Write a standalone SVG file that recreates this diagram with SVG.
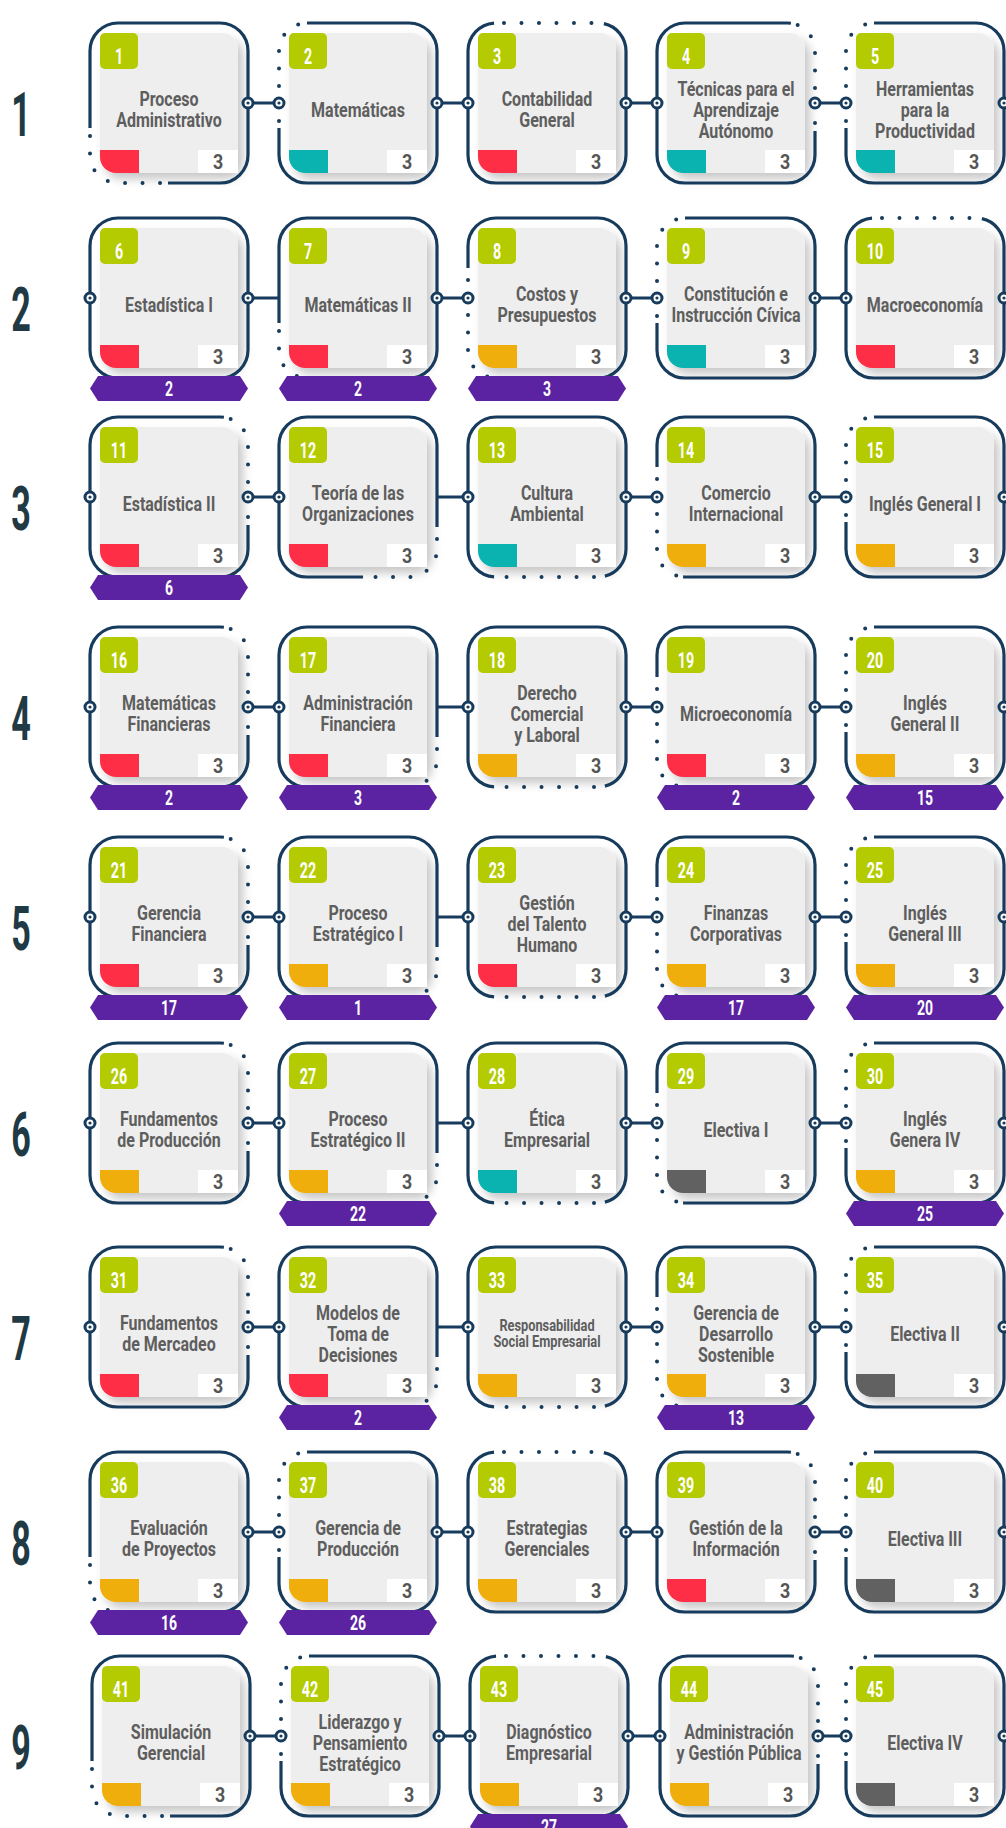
<svg xmlns="http://www.w3.org/2000/svg" width="1006" height="1828" viewBox="0 0 1006 1828">
<style>
.dots{fill:none;stroke:#163b5c;stroke-width:4;stroke-linecap:round}
.solid{fill:none;stroke:#163b5c;stroke-width:3.2}
.in{fill:#eeeeee;filter:url(#sh)}
.bd{fill:#b3cb00}
.red{fill:#fe2e47}.teal{fill:#0bb3b0}.org{fill:#f0ae0c}.gry{fill:#616161}
.wb{fill:#ffffff}
.pt{fill:#5b23a1}
.ti,.bn,.cr,.pn,.rl{font-family:Roboto,'Liberation Sans',Arial,sans-serif;font-weight:700;text-anchor:middle}
.ti{font-size:20px;fill:#5e5e5e}
.sm{font-size:16px}
.bn{font-size:22px;fill:#ffffff}
.cr{font-size:21px;fill:#555555}
.pn{font-size:20px;fill:#ffffff}
.rl{font-size:62px;fill:#1f3a45}
.ln{fill:none;stroke:#163b5c;stroke-width:3.2}
.sA{stroke-dasharray:346 121 121 0}
.sTL{stroke-dasharray:467 121}
.sT{stroke-dasharray:0 108 478 2}
.sR{stroke-dasharray:106 120 362 0}
.sBR{stroke-dasharray:228 112 248 0}
.sB{stroke-dasharray:287 111 190 0}
.sL{stroke-dasharray:398 124 66 0}
.dA{stroke-dasharray:0 17.5 0 17.5 0 17.5 0 17.5 0 17.5 0 17.5 0 483;stroke-dashoffset:234}
.dTL{stroke-dasharray:0 17.5 0 17.5 0 17.5 0 17.5 0 17.5 0 17.5 0 483;stroke-dashoffset:114}
.dT{stroke-dasharray:0 17.5 0 17.5 0 17.5 0 17.5 0 17.5 0 500.5;stroke-dashoffset:580}
.dR{stroke-dasharray:0 17.5 0 17.5 0 17.5 0 17.5 0 17.5 0 17.5 0 483;stroke-dashoffset:475}
.dBR{stroke-dasharray:0 17.5 0 17.5 0 17.5 0 17.5 0 17.5 0 500.5;stroke-dashoffset:348}
.dB{stroke-dasharray:0 17.5 0 17.5 0 17.5 0 17.5 0 17.5 0 500.5;stroke-dashoffset:290}
.dL{stroke-dasharray:0 17.5 0 17.5 0 17.5 0 17.5 0 17.5 0 17.5 0 483;stroke-dashoffset:183}
</style>
<defs>
<filter id="sh" x="-20%" y="-20%" width="150%" height="150%"><feDropShadow dx="5" dy="6" stdDeviation="5" flood-color="#000" flood-opacity="0.22"/></filter>
<path id="frame" pathLength="588" d="M28,0H130A28,28 0 0 1 158,28V132A28,28 0 0 1 130,160H28A28,28 0 0 1 0,132V28A28,28 0 0 1 28,0Z"/>
<rect id="inner" x="10" y="10" width="138" height="140" rx="16"/>
<rect id="badge" x="10" y="10" width="38" height="36" rx="5"/>
<path id="ctab" d="M10,127H49V150H26A16,16 0 0 1 10,134Z"/>
<rect id="wbox" x="108" y="127" width="40" height="23"/>
<path id="ptab" d="M0,170.5L8,158H150L158,170.5L150,183H8Z"/>
<g id="knot"><circle r="5" fill="#ffffff" stroke="#163b5c" stroke-width="3"/><circle r="1.6" fill="#163b5c"/></g>
</defs>
<rect width="1006" height="1828" fill="#ffffff"/>

<g id="row-labels">
<text class="rl" transform="translate(21 136) scale(.55 1)">1</text>
<text class="rl" transform="translate(21 331) scale(.55 1)">2</text>
<text class="rl" transform="translate(21 530) scale(.55 1)">3</text>
<text class="rl" transform="translate(21 740) scale(.55 1)">4</text>
<text class="rl" transform="translate(21 950) scale(.55 1)">5</text>
<text class="rl" transform="translate(21 1156) scale(.55 1)">6</text>
<text class="rl" transform="translate(21 1360) scale(.55 1)">7</text>
<text class="rl" transform="translate(21 1565) scale(.55 1)">8</text>
<text class="rl" transform="translate(21 1769) scale(.55 1)">9</text>
</g>

<!-- Row 1 -->
<g id="c1" transform="translate(90 23)">
<use href="#inner" class="in"/><use href="#frame" class="dots dA"/><use href="#frame" class="solid sA"/>
<use href="#badge" class="bd"/><text class="bn" transform="translate(29 40.5) scale(.65 1)">1</text>
<use href="#ctab" class="red"/><use href="#wbox" class="wb"/><text class="cr" transform="translate(128 146) scale(.85 1)">3</text>
<text class="ti" transform="translate(79 0) scale(.8 1)"><tspan x="0" y="83.5">Proceso</tspan><tspan x="0" y="104.5">Administrativo</tspan></text>
</g>
<g id="c2" transform="translate(279 23)">
<use href="#inner" class="in"/><use href="#frame" class="dots dTL"/><use href="#frame" class="solid sTL"/>
<use href="#badge" class="bd"/><text class="bn" transform="translate(29 40.5) scale(.65 1)">2</text>
<use href="#ctab" class="teal"/><use href="#wbox" class="wb"/><text class="cr" transform="translate(128 146) scale(.85 1)">3</text>
<text class="ti" transform="translate(79 0) scale(.8 1)"><tspan x="0" y="94">Matemáticas</tspan></text>
</g>
<g id="c3" transform="translate(468 23)">
<use href="#inner" class="in"/><use href="#frame" class="dots dT"/><use href="#frame" class="solid sT"/>
<use href="#badge" class="bd"/><text class="bn" transform="translate(29 40.5) scale(.65 1)">3</text>
<use href="#ctab" class="red"/><use href="#wbox" class="wb"/><text class="cr" transform="translate(128 146) scale(.85 1)">3</text>
<text class="ti" transform="translate(79 0) scale(.8 1)"><tspan x="0" y="83.5">Contabilidad</tspan><tspan x="0" y="104.5">General</tspan></text>
</g>
<g id="c4" transform="translate(657 23)">
<use href="#inner" class="in"/><use href="#frame" class="dots dR"/><use href="#frame" class="solid sR"/>
<use href="#badge" class="bd"/><text class="bn" transform="translate(29 40.5) scale(.65 1)">4</text>
<use href="#ctab" class="teal"/><use href="#wbox" class="wb"/><text class="cr" transform="translate(128 146) scale(.85 1)">3</text>
<text class="ti" transform="translate(79 0) scale(.8 1)"><tspan x="0" y="73">Técnicas para el</tspan><tspan x="0" y="94">Aprendizaje</tspan><tspan x="0" y="115">Autónomo</tspan></text>
</g>
<g id="c5" transform="translate(846 23)">
<use href="#inner" class="in"/><use href="#frame" class="dots dTL"/><use href="#frame" class="solid sTL"/>
<use href="#badge" class="bd"/><text class="bn" transform="translate(29 40.5) scale(.65 1)">5</text>
<use href="#ctab" class="teal"/><use href="#wbox" class="wb"/><text class="cr" transform="translate(128 146) scale(.85 1)">3</text>
<text class="ti" transform="translate(79 0) scale(.8 1)"><tspan x="0" y="73">Herramientas</tspan><tspan x="0" y="94">para la</tspan><tspan x="0" y="115">Productividad</tspan></text>
</g>

<!-- Row 2 -->
<g id="c6" transform="translate(90 218)">
<use href="#inner" class="in"/><use href="#frame" class="solid"/>
<use href="#badge" class="bd"/><text class="bn" transform="translate(29 40.5) scale(.65 1)">6</text>
<use href="#ctab" class="red"/><use href="#wbox" class="wb"/><text class="cr" transform="translate(128 146) scale(.85 1)">3</text>
<text class="ti" transform="translate(79 0) scale(.8 1)"><tspan x="0" y="94">Estadística I</tspan></text>
<use href="#ptab" class="pt"/><text class="pn" transform="translate(79 177.5) scale(.7 1)">2</text>
</g>
<g id="c7" transform="translate(279 218)">
<use href="#inner" class="in"/><use href="#frame" class="dots dA"/><use href="#frame" class="solid sA"/>
<use href="#badge" class="bd"/><text class="bn" transform="translate(29 40.5) scale(.65 1)">7</text>
<use href="#ctab" class="red"/><use href="#wbox" class="wb"/><text class="cr" transform="translate(128 146) scale(.85 1)">3</text>
<text class="ti" transform="translate(79 0) scale(.8 1)"><tspan x="0" y="94">Matemáticas II</tspan></text>
<use href="#ptab" class="pt"/><text class="pn" transform="translate(79 177.5) scale(.7 1)">2</text>
</g>
<g id="c8" transform="translate(468 218)">
<use href="#inner" class="in"/><use href="#frame" class="dots dL"/><use href="#frame" class="solid sL"/>
<use href="#badge" class="bd"/><text class="bn" transform="translate(29 40.5) scale(.65 1)">8</text>
<use href="#ctab" class="org"/><use href="#wbox" class="wb"/><text class="cr" transform="translate(128 146) scale(.85 1)">3</text>
<text class="ti" transform="translate(79 0) scale(.8 1)"><tspan x="0" y="83.5">Costos y</tspan><tspan x="0" y="104.5">Presupuestos</tspan></text>
<use href="#ptab" class="pt"/><text class="pn" transform="translate(79 177.5) scale(.7 1)">3</text>
</g>
<g id="c9" transform="translate(657 218)">
<use href="#inner" class="in"/><use href="#frame" class="dots dTL"/><use href="#frame" class="solid sTL"/>
<use href="#badge" class="bd"/><text class="bn" transform="translate(29 40.5) scale(.65 1)">9</text>
<use href="#ctab" class="teal"/><use href="#wbox" class="wb"/><text class="cr" transform="translate(128 146) scale(.85 1)">3</text>
<text class="ti" transform="translate(79 0) scale(.8 1)"><tspan x="0" y="83.5">Constitución e</tspan><tspan x="0" y="104.5">Instrucción Cívica</tspan></text>
</g>
<g id="c10" transform="translate(846 218)">
<use href="#inner" class="in"/><use href="#frame" class="dots dT"/><use href="#frame" class="solid sT"/>
<use href="#badge" class="bd"/><text class="bn" transform="translate(29 40.5) scale(.65 1)">10</text>
<use href="#ctab" class="red"/><use href="#wbox" class="wb"/><text class="cr" transform="translate(128 146) scale(.85 1)">3</text>
<text class="ti" transform="translate(79 0) scale(.8 1)"><tspan x="0" y="94">Macroeconomía</tspan></text>
</g>

<!-- Row 3 -->
<g id="c11" transform="translate(90 417)">
<use href="#inner" class="in"/><use href="#frame" class="dots dR"/><use href="#frame" class="solid sR"/>
<use href="#badge" class="bd"/><text class="bn" transform="translate(29 40.5) scale(.65 1)">11</text>
<use href="#ctab" class="red"/><use href="#wbox" class="wb"/><text class="cr" transform="translate(128 146) scale(.85 1)">3</text>
<text class="ti" transform="translate(79 0) scale(.8 1)"><tspan x="0" y="94">Estadística II</tspan></text>
<use href="#ptab" class="pt"/><text class="pn" transform="translate(79 177.5) scale(.7 1)">6</text>
</g>
<g id="c12" transform="translate(279 417)">
<use href="#inner" class="in"/><use href="#frame" class="dots dBR"/><use href="#frame" class="solid sBR"/>
<use href="#badge" class="bd"/><text class="bn" transform="translate(29 40.5) scale(.65 1)">12</text>
<use href="#ctab" class="red"/><use href="#wbox" class="wb"/><text class="cr" transform="translate(128 146) scale(.85 1)">3</text>
<text class="ti" transform="translate(79 0) scale(.8 1)"><tspan x="0" y="83.5">Teoría de las</tspan><tspan x="0" y="104.5">Organizaciones</tspan></text>
</g>
<g id="c13" transform="translate(468 417)">
<use href="#inner" class="in"/><use href="#frame" class="dots dB"/><use href="#frame" class="solid sB"/>
<use href="#badge" class="bd"/><text class="bn" transform="translate(29 40.5) scale(.65 1)">13</text>
<use href="#ctab" class="teal"/><use href="#wbox" class="wb"/><text class="cr" transform="translate(128 146) scale(.85 1)">3</text>
<text class="ti" transform="translate(79 0) scale(.8 1)"><tspan x="0" y="83.5">Cultura</tspan><tspan x="0" y="104.5">Ambiental</tspan></text>
</g>
<g id="c14" transform="translate(657 417)">
<use href="#inner" class="in"/><use href="#frame" class="dots dL"/><use href="#frame" class="solid sL"/>
<use href="#badge" class="bd"/><text class="bn" transform="translate(29 40.5) scale(.65 1)">14</text>
<use href="#ctab" class="org"/><use href="#wbox" class="wb"/><text class="cr" transform="translate(128 146) scale(.85 1)">3</text>
<text class="ti" transform="translate(79 0) scale(.8 1)"><tspan x="0" y="83.5">Comercio</tspan><tspan x="0" y="104.5">Internacional</tspan></text>
</g>
<g id="c15" transform="translate(846 417)">
<use href="#inner" class="in"/><use href="#frame" class="dots dTL"/><use href="#frame" class="solid sTL"/>
<use href="#badge" class="bd"/><text class="bn" transform="translate(29 40.5) scale(.65 1)">15</text>
<use href="#ctab" class="org"/><use href="#wbox" class="wb"/><text class="cr" transform="translate(128 146) scale(.85 1)">3</text>
<text class="ti" transform="translate(79 0) scale(.8 1)"><tspan x="0" y="94">Inglés General I</tspan></text>
</g>

<!-- Row 4 -->
<g id="c16" transform="translate(90 627)">
<use href="#inner" class="in"/><use href="#frame" class="dots dR"/><use href="#frame" class="solid sR"/>
<use href="#badge" class="bd"/><text class="bn" transform="translate(29 40.5) scale(.65 1)">16</text>
<use href="#ctab" class="red"/><use href="#wbox" class="wb"/><text class="cr" transform="translate(128 146) scale(.85 1)">3</text>
<text class="ti" transform="translate(79 0) scale(.8 1)"><tspan x="0" y="83.5">Matemáticas</tspan><tspan x="0" y="104.5">Financieras</tspan></text>
<use href="#ptab" class="pt"/><text class="pn" transform="translate(79 177.5) scale(.7 1)">2</text>
</g>
<g id="c17" transform="translate(279 627)">
<use href="#inner" class="in"/><use href="#frame" class="dots dBR"/><use href="#frame" class="solid sBR"/>
<use href="#badge" class="bd"/><text class="bn" transform="translate(29 40.5) scale(.65 1)">17</text>
<use href="#ctab" class="red"/><use href="#wbox" class="wb"/><text class="cr" transform="translate(128 146) scale(.85 1)">3</text>
<text class="ti" transform="translate(79 0) scale(.8 1)"><tspan x="0" y="83.5">Administración</tspan><tspan x="0" y="104.5">Financiera</tspan></text>
<use href="#ptab" class="pt"/><text class="pn" transform="translate(79 177.5) scale(.7 1)">3</text>
</g>
<g id="c18" transform="translate(468 627)">
<use href="#inner" class="in"/><use href="#frame" class="dots dB"/><use href="#frame" class="solid sB"/>
<use href="#badge" class="bd"/><text class="bn" transform="translate(29 40.5) scale(.65 1)">18</text>
<use href="#ctab" class="org"/><use href="#wbox" class="wb"/><text class="cr" transform="translate(128 146) scale(.85 1)">3</text>
<text class="ti" transform="translate(79 0) scale(.8 1)"><tspan x="0" y="73">Derecho</tspan><tspan x="0" y="94">Comercial</tspan><tspan x="0" y="115">y Laboral</tspan></text>
</g>
<g id="c19" transform="translate(657 627)">
<use href="#inner" class="in"/><use href="#frame" class="dots dL"/><use href="#frame" class="solid sL"/>
<use href="#badge" class="bd"/><text class="bn" transform="translate(29 40.5) scale(.65 1)">19</text>
<use href="#ctab" class="red"/><use href="#wbox" class="wb"/><text class="cr" transform="translate(128 146) scale(.85 1)">3</text>
<text class="ti" transform="translate(79 0) scale(.8 1)"><tspan x="0" y="94">Microeconomía</tspan></text>
<use href="#ptab" class="pt"/><text class="pn" transform="translate(79 177.5) scale(.7 1)">2</text>
</g>
<g id="c20" transform="translate(846 627)">
<use href="#inner" class="in"/><use href="#frame" class="dots dTL"/><use href="#frame" class="solid sTL"/>
<use href="#badge" class="bd"/><text class="bn" transform="translate(29 40.5) scale(.65 1)">20</text>
<use href="#ctab" class="org"/><use href="#wbox" class="wb"/><text class="cr" transform="translate(128 146) scale(.85 1)">3</text>
<text class="ti" transform="translate(79 0) scale(.8 1)"><tspan x="0" y="83.5">Inglés</tspan><tspan x="0" y="104.5">General II</tspan></text>
<use href="#ptab" class="pt"/><text class="pn" transform="translate(79 177.5) scale(.7 1)">15</text>
</g>

<!-- Row 5 -->
<g id="c21" transform="translate(90 837)">
<use href="#inner" class="in"/><use href="#frame" class="dots dR"/><use href="#frame" class="solid sR"/>
<use href="#badge" class="bd"/><text class="bn" transform="translate(29 40.5) scale(.65 1)">21</text>
<use href="#ctab" class="red"/><use href="#wbox" class="wb"/><text class="cr" transform="translate(128 146) scale(.85 1)">3</text>
<text class="ti" transform="translate(79 0) scale(.8 1)"><tspan x="0" y="83.5">Gerencia</tspan><tspan x="0" y="104.5">Financiera</tspan></text>
<use href="#ptab" class="pt"/><text class="pn" transform="translate(79 177.5) scale(.7 1)">17</text>
</g>
<g id="c22" transform="translate(279 837)">
<use href="#inner" class="in"/><use href="#frame" class="dots dBR"/><use href="#frame" class="solid sBR"/>
<use href="#badge" class="bd"/><text class="bn" transform="translate(29 40.5) scale(.65 1)">22</text>
<use href="#ctab" class="org"/><use href="#wbox" class="wb"/><text class="cr" transform="translate(128 146) scale(.85 1)">3</text>
<text class="ti" transform="translate(79 0) scale(.8 1)"><tspan x="0" y="83.5">Proceso</tspan><tspan x="0" y="104.5">Estratégico I</tspan></text>
<use href="#ptab" class="pt"/><text class="pn" transform="translate(79 177.5) scale(.7 1)">1</text>
</g>
<g id="c23" transform="translate(468 837)">
<use href="#inner" class="in"/><use href="#frame" class="dots dB"/><use href="#frame" class="solid sB"/>
<use href="#badge" class="bd"/><text class="bn" transform="translate(29 40.5) scale(.65 1)">23</text>
<use href="#ctab" class="red"/><use href="#wbox" class="wb"/><text class="cr" transform="translate(128 146) scale(.85 1)">3</text>
<text class="ti" transform="translate(79 0) scale(.8 1)"><tspan x="0" y="73">Gestión</tspan><tspan x="0" y="94">del Talento</tspan><tspan x="0" y="115">Humano</tspan></text>
</g>
<g id="c24" transform="translate(657 837)">
<use href="#inner" class="in"/><use href="#frame" class="dots dL"/><use href="#frame" class="solid sL"/>
<use href="#badge" class="bd"/><text class="bn" transform="translate(29 40.5) scale(.65 1)">24</text>
<use href="#ctab" class="org"/><use href="#wbox" class="wb"/><text class="cr" transform="translate(128 146) scale(.85 1)">3</text>
<text class="ti" transform="translate(79 0) scale(.8 1)"><tspan x="0" y="83.5">Finanzas</tspan><tspan x="0" y="104.5">Corporativas</tspan></text>
<use href="#ptab" class="pt"/><text class="pn" transform="translate(79 177.5) scale(.7 1)">17</text>
</g>
<g id="c25" transform="translate(846 837)">
<use href="#inner" class="in"/><use href="#frame" class="dots dTL"/><use href="#frame" class="solid sTL"/>
<use href="#badge" class="bd"/><text class="bn" transform="translate(29 40.5) scale(.65 1)">25</text>
<use href="#ctab" class="org"/><use href="#wbox" class="wb"/><text class="cr" transform="translate(128 146) scale(.85 1)">3</text>
<text class="ti" transform="translate(79 0) scale(.8 1)"><tspan x="0" y="83.5">Inglés</tspan><tspan x="0" y="104.5">General III</tspan></text>
<use href="#ptab" class="pt"/><text class="pn" transform="translate(79 177.5) scale(.7 1)">20</text>
</g>

<!-- Row 6 -->
<g id="c26" transform="translate(90 1043)">
<use href="#inner" class="in"/><use href="#frame" class="dots dR"/><use href="#frame" class="solid sR"/>
<use href="#badge" class="bd"/><text class="bn" transform="translate(29 40.5) scale(.65 1)">26</text>
<use href="#ctab" class="org"/><use href="#wbox" class="wb"/><text class="cr" transform="translate(128 146) scale(.85 1)">3</text>
<text class="ti" transform="translate(79 0) scale(.8 1)"><tspan x="0" y="83.5">Fundamentos</tspan><tspan x="0" y="104.5">de Producción</tspan></text>
</g>
<g id="c27" transform="translate(279 1043)">
<use href="#inner" class="in"/><use href="#frame" class="dots dBR"/><use href="#frame" class="solid sBR"/>
<use href="#badge" class="bd"/><text class="bn" transform="translate(29 40.5) scale(.65 1)">27</text>
<use href="#ctab" class="org"/><use href="#wbox" class="wb"/><text class="cr" transform="translate(128 146) scale(.85 1)">3</text>
<text class="ti" transform="translate(79 0) scale(.8 1)"><tspan x="0" y="83.5">Proceso</tspan><tspan x="0" y="104.5">Estratégico II</tspan></text>
<use href="#ptab" class="pt"/><text class="pn" transform="translate(79 177.5) scale(.7 1)">22</text>
</g>
<g id="c28" transform="translate(468 1043)">
<use href="#inner" class="in"/><use href="#frame" class="dots dB"/><use href="#frame" class="solid sB"/>
<use href="#badge" class="bd"/><text class="bn" transform="translate(29 40.5) scale(.65 1)">28</text>
<use href="#ctab" class="teal"/><use href="#wbox" class="wb"/><text class="cr" transform="translate(128 146) scale(.85 1)">3</text>
<text class="ti" transform="translate(79 0) scale(.8 1)"><tspan x="0" y="83.5">Ética</tspan><tspan x="0" y="104.5">Empresarial</tspan></text>
</g>
<g id="c29" transform="translate(657 1043)">
<use href="#inner" class="in"/><use href="#frame" class="dots dL"/><use href="#frame" class="solid sL"/>
<use href="#badge" class="bd"/><text class="bn" transform="translate(29 40.5) scale(.65 1)">29</text>
<use href="#ctab" class="gry"/><use href="#wbox" class="wb"/><text class="cr" transform="translate(128 146) scale(.85 1)">3</text>
<text class="ti" transform="translate(79 0) scale(.8 1)"><tspan x="0" y="94">Electiva I</tspan></text>
</g>
<g id="c30" transform="translate(846 1043)">
<use href="#inner" class="in"/><use href="#frame" class="dots dTL"/><use href="#frame" class="solid sTL"/>
<use href="#badge" class="bd"/><text class="bn" transform="translate(29 40.5) scale(.65 1)">30</text>
<use href="#ctab" class="org"/><use href="#wbox" class="wb"/><text class="cr" transform="translate(128 146) scale(.85 1)">3</text>
<text class="ti" transform="translate(79 0) scale(.8 1)"><tspan x="0" y="83.5">Inglés</tspan><tspan x="0" y="104.5">Genera IV</tspan></text>
<use href="#ptab" class="pt"/><text class="pn" transform="translate(79 177.5) scale(.7 1)">25</text>
</g>

<!-- Row 7 -->
<g id="c31" transform="translate(90 1247)">
<use href="#inner" class="in"/><use href="#frame" class="dots dR"/><use href="#frame" class="solid sR"/>
<use href="#badge" class="bd"/><text class="bn" transform="translate(29 40.5) scale(.65 1)">31</text>
<use href="#ctab" class="red"/><use href="#wbox" class="wb"/><text class="cr" transform="translate(128 146) scale(.85 1)">3</text>
<text class="ti" transform="translate(79 0) scale(.8 1)"><tspan x="0" y="83.5">Fundamentos</tspan><tspan x="0" y="104.5">de Mercadeo</tspan></text>
</g>
<g id="c32" transform="translate(279 1247)">
<use href="#inner" class="in"/><use href="#frame" class="dots dBR"/><use href="#frame" class="solid sBR"/>
<use href="#badge" class="bd"/><text class="bn" transform="translate(29 40.5) scale(.65 1)">32</text>
<use href="#ctab" class="red"/><use href="#wbox" class="wb"/><text class="cr" transform="translate(128 146) scale(.85 1)">3</text>
<text class="ti" transform="translate(79 0) scale(.8 1)"><tspan x="0" y="73">Modelos de</tspan><tspan x="0" y="94">Toma de</tspan><tspan x="0" y="115">Decisiones</tspan></text>
<use href="#ptab" class="pt"/><text class="pn" transform="translate(79 177.5) scale(.7 1)">2</text>
</g>
<g id="c33" transform="translate(468 1247)">
<use href="#inner" class="in"/><use href="#frame" class="dots dB"/><use href="#frame" class="solid sB"/>
<use href="#badge" class="bd"/><text class="bn" transform="translate(29 40.5) scale(.65 1)">33</text>
<use href="#ctab" class="org"/><use href="#wbox" class="wb"/><text class="cr" transform="translate(128 146) scale(.85 1)">3</text>
<text class="ti sm" transform="translate(79 0) scale(.8 1)"><tspan x="0" y="84">Responsabilidad</tspan><tspan x="0" y="100">Social Empresarial</tspan></text>
</g>
<g id="c34" transform="translate(657 1247)">
<use href="#inner" class="in"/><use href="#frame" class="dots dL"/><use href="#frame" class="solid sL"/>
<use href="#badge" class="bd"/><text class="bn" transform="translate(29 40.5) scale(.65 1)">34</text>
<use href="#ctab" class="org"/><use href="#wbox" class="wb"/><text class="cr" transform="translate(128 146) scale(.85 1)">3</text>
<text class="ti" transform="translate(79 0) scale(.8 1)"><tspan x="0" y="73">Gerencia de</tspan><tspan x="0" y="94">Desarrollo</tspan><tspan x="0" y="115">Sostenible</tspan></text>
<use href="#ptab" class="pt"/><text class="pn" transform="translate(79 177.5) scale(.7 1)">13</text>
</g>
<g id="c35" transform="translate(846 1247)">
<use href="#inner" class="in"/><use href="#frame" class="dots dTL"/><use href="#frame" class="solid sTL"/>
<use href="#badge" class="bd"/><text class="bn" transform="translate(29 40.5) scale(.65 1)">35</text>
<use href="#ctab" class="gry"/><use href="#wbox" class="wb"/><text class="cr" transform="translate(128 146) scale(.85 1)">3</text>
<text class="ti" transform="translate(79 0) scale(.8 1)"><tspan x="0" y="94">Electiva II</tspan></text>
</g>

<!-- Row 8 -->
<g id="c36" transform="translate(90 1452)">
<use href="#inner" class="in"/><use href="#frame" class="dots dA"/><use href="#frame" class="solid sA"/>
<use href="#badge" class="bd"/><text class="bn" transform="translate(29 40.5) scale(.65 1)">36</text>
<use href="#ctab" class="org"/><use href="#wbox" class="wb"/><text class="cr" transform="translate(128 146) scale(.85 1)">3</text>
<text class="ti" transform="translate(79 0) scale(.8 1)"><tspan x="0" y="83.5">Evaluación</tspan><tspan x="0" y="104.5">de Proyectos</tspan></text>
<use href="#ptab" class="pt"/><text class="pn" transform="translate(79 177.5) scale(.7 1)">16</text>
</g>
<g id="c37" transform="translate(279 1452)">
<use href="#inner" class="in"/><use href="#frame" class="dots dTL"/><use href="#frame" class="solid sTL"/>
<use href="#badge" class="bd"/><text class="bn" transform="translate(29 40.5) scale(.65 1)">37</text>
<use href="#ctab" class="org"/><use href="#wbox" class="wb"/><text class="cr" transform="translate(128 146) scale(.85 1)">3</text>
<text class="ti" transform="translate(79 0) scale(.8 1)"><tspan x="0" y="83.5">Gerencia de</tspan><tspan x="0" y="104.5">Producción</tspan></text>
<use href="#ptab" class="pt"/><text class="pn" transform="translate(79 177.5) scale(.7 1)">26</text>
</g>
<g id="c38" transform="translate(468 1452)">
<use href="#inner" class="in"/><use href="#frame" class="dots dT"/><use href="#frame" class="solid sT"/>
<use href="#badge" class="bd"/><text class="bn" transform="translate(29 40.5) scale(.65 1)">38</text>
<use href="#ctab" class="org"/><use href="#wbox" class="wb"/><text class="cr" transform="translate(128 146) scale(.85 1)">3</text>
<text class="ti" transform="translate(79 0) scale(.8 1)"><tspan x="0" y="83.5">Estrategias</tspan><tspan x="0" y="104.5">Gerenciales</tspan></text>
</g>
<g id="c39" transform="translate(657 1452)">
<use href="#inner" class="in"/><use href="#frame" class="dots dR"/><use href="#frame" class="solid sR"/>
<use href="#badge" class="bd"/><text class="bn" transform="translate(29 40.5) scale(.65 1)">39</text>
<use href="#ctab" class="red"/><use href="#wbox" class="wb"/><text class="cr" transform="translate(128 146) scale(.85 1)">3</text>
<text class="ti" transform="translate(79 0) scale(.8 1)"><tspan x="0" y="83.5">Gestión de la</tspan><tspan x="0" y="104.5">Información</tspan></text>
</g>
<g id="c40" transform="translate(846 1452)">
<use href="#inner" class="in"/><use href="#frame" class="dots dTL"/><use href="#frame" class="solid sTL"/>
<use href="#badge" class="bd"/><text class="bn" transform="translate(29 40.5) scale(.65 1)">40</text>
<use href="#ctab" class="gry"/><use href="#wbox" class="wb"/><text class="cr" transform="translate(128 146) scale(.85 1)">3</text>
<text class="ti" transform="translate(79 0) scale(.8 1)"><tspan x="0" y="94">Electiva III</tspan></text>
</g>

<!-- Row 9 -->
<g id="c41" transform="translate(92 1656)">
<use href="#inner" class="in"/><use href="#frame" class="dots dA"/><use href="#frame" class="solid sA"/>
<use href="#badge" class="bd"/><text class="bn" transform="translate(29 40.5) scale(.65 1)">41</text>
<use href="#ctab" class="org"/><use href="#wbox" class="wb"/><text class="cr" transform="translate(128 146) scale(.85 1)">3</text>
<text class="ti" transform="translate(79 0) scale(.8 1)"><tspan x="0" y="83.5">Simulación</tspan><tspan x="0" y="104.5">Gerencial</tspan></text>
</g>
<g id="c42" transform="translate(281 1656)">
<use href="#inner" class="in"/><use href="#frame" class="dots dTL"/><use href="#frame" class="solid sTL"/>
<use href="#badge" class="bd"/><text class="bn" transform="translate(29 40.5) scale(.65 1)">42</text>
<use href="#ctab" class="org"/><use href="#wbox" class="wb"/><text class="cr" transform="translate(128 146) scale(.85 1)">3</text>
<text class="ti" transform="translate(79 0) scale(.8 1)"><tspan x="0" y="73">Liderazgo y</tspan><tspan x="0" y="94">Pensamiento</tspan><tspan x="0" y="115">Estratégico</tspan></text>
</g>
<g id="c43" transform="translate(470 1656)">
<use href="#inner" class="in"/><use href="#frame" class="dots dT"/><use href="#frame" class="solid sT"/>
<use href="#badge" class="bd"/><text class="bn" transform="translate(29 40.5) scale(.65 1)">43</text>
<use href="#ctab" class="org"/><use href="#wbox" class="wb"/><text class="cr" transform="translate(128 146) scale(.85 1)">3</text>
<text class="ti" transform="translate(79 0) scale(.8 1)"><tspan x="0" y="83.5">Diagnóstico</tspan><tspan x="0" y="104.5">Empresarial</tspan></text>
<use href="#ptab" class="pt"/><text class="pn" transform="translate(79 177.5) scale(.7 1)">27</text>
</g>
<g id="c44" transform="translate(660 1656)">
<use href="#inner" class="in"/><use href="#frame" class="dots dR"/><use href="#frame" class="solid sR"/>
<use href="#badge" class="bd"/><text class="bn" transform="translate(29 40.5) scale(.65 1)">44</text>
<use href="#ctab" class="org"/><use href="#wbox" class="wb"/><text class="cr" transform="translate(128 146) scale(.85 1)">3</text>
<text class="ti" transform="translate(79 0) scale(.8 1)"><tspan x="0" y="83.5">Administración</tspan><tspan x="0" y="104.5">y Gestión Pública</tspan></text>
</g>
<g id="c45" transform="translate(846 1656)">
<use href="#inner" class="in"/><use href="#frame" class="dots dTL"/><use href="#frame" class="solid sTL"/>
<use href="#badge" class="bd"/><text class="bn" transform="translate(29 40.5) scale(.65 1)">45</text>
<use href="#ctab" class="gry"/><use href="#wbox" class="wb"/><text class="cr" transform="translate(128 146) scale(.85 1)">3</text>
<text class="ti" transform="translate(79 0) scale(.8 1)"><tspan x="0" y="94">Electiva IV</tspan></text>
</g>

<g id="connectors">
<path class="ln" d="M248,103H279M437,103H468M626,103H657M815,103H846
M248,298H279M437,298H468M626,298H657M815,298H846
M248,497H279M437,497H468M626,497H657M815,497H846
M248,707H279M437,707H468M626,707H657M815,707H846
M248,917H279M437,917H468M626,917H657M815,917H846
M248,1123H279M437,1123H468M626,1123H657M815,1123H846
M248,1327H279M437,1327H468M626,1327H657M815,1327H846
M248,1532H279M437,1532H468M626,1532H657M815,1532H846
M250,1736H281M439,1736H470M628,1736H660M818,1736H846"/>
<use href="#knot" x="248" y="103"/><use href="#knot" x="279" y="103"/><use href="#knot" x="437" y="103"/><use href="#knot" x="468" y="103"/><use href="#knot" x="626" y="103"/><use href="#knot" x="657" y="103"/><use href="#knot" x="815" y="103"/><use href="#knot" x="846" y="103"/><use href="#knot" x="1004" y="103"/>
<use href="#knot" x="90" y="298"/><use href="#knot" x="248" y="298"/><use href="#knot" x="437" y="298"/><use href="#knot" x="468" y="298"/><use href="#knot" x="626" y="298"/><use href="#knot" x="657" y="298"/><use href="#knot" x="815" y="298"/><use href="#knot" x="846" y="298"/><use href="#knot" x="1004" y="298"/>
<use href="#knot" x="90" y="497"/><use href="#knot" x="248" y="497"/><use href="#knot" x="279" y="497"/><use href="#knot" x="468" y="497"/><use href="#knot" x="626" y="497"/><use href="#knot" x="657" y="497"/><use href="#knot" x="815" y="497"/><use href="#knot" x="846" y="497"/><use href="#knot" x="1004" y="497"/>
<use href="#knot" x="90" y="707"/><use href="#knot" x="248" y="707"/><use href="#knot" x="279" y="707"/><use href="#knot" x="468" y="707"/><use href="#knot" x="626" y="707"/><use href="#knot" x="657" y="707"/><use href="#knot" x="815" y="707"/><use href="#knot" x="846" y="707"/><use href="#knot" x="1004" y="707"/>
<use href="#knot" x="90" y="917"/><use href="#knot" x="248" y="917"/><use href="#knot" x="279" y="917"/><use href="#knot" x="468" y="917"/><use href="#knot" x="626" y="917"/><use href="#knot" x="657" y="917"/><use href="#knot" x="815" y="917"/><use href="#knot" x="846" y="917"/><use href="#knot" x="1004" y="917"/>
<use href="#knot" x="90" y="1123"/><use href="#knot" x="248" y="1123"/><use href="#knot" x="279" y="1123"/><use href="#knot" x="468" y="1123"/><use href="#knot" x="626" y="1123"/><use href="#knot" x="657" y="1123"/><use href="#knot" x="815" y="1123"/><use href="#knot" x="846" y="1123"/><use href="#knot" x="1004" y="1123"/>
<use href="#knot" x="90" y="1327"/><use href="#knot" x="248" y="1327"/><use href="#knot" x="279" y="1327"/><use href="#knot" x="468" y="1327"/><use href="#knot" x="626" y="1327"/><use href="#knot" x="657" y="1327"/><use href="#knot" x="815" y="1327"/><use href="#knot" x="846" y="1327"/><use href="#knot" x="1004" y="1327"/>
<use href="#knot" x="248" y="1532"/><use href="#knot" x="279" y="1532"/><use href="#knot" x="437" y="1532"/><use href="#knot" x="468" y="1532"/><use href="#knot" x="626" y="1532"/><use href="#knot" x="657" y="1532"/><use href="#knot" x="815" y="1532"/><use href="#knot" x="846" y="1532"/><use href="#knot" x="1004" y="1532"/>
<use href="#knot" x="250" y="1736"/><use href="#knot" x="281" y="1736"/><use href="#knot" x="439" y="1736"/><use href="#knot" x="470" y="1736"/><use href="#knot" x="628" y="1736"/><use href="#knot" x="660" y="1736"/><use href="#knot" x="818" y="1736"/><use href="#knot" x="846" y="1736"/><use href="#knot" x="1004" y="1736"/>
</g>
</svg>
